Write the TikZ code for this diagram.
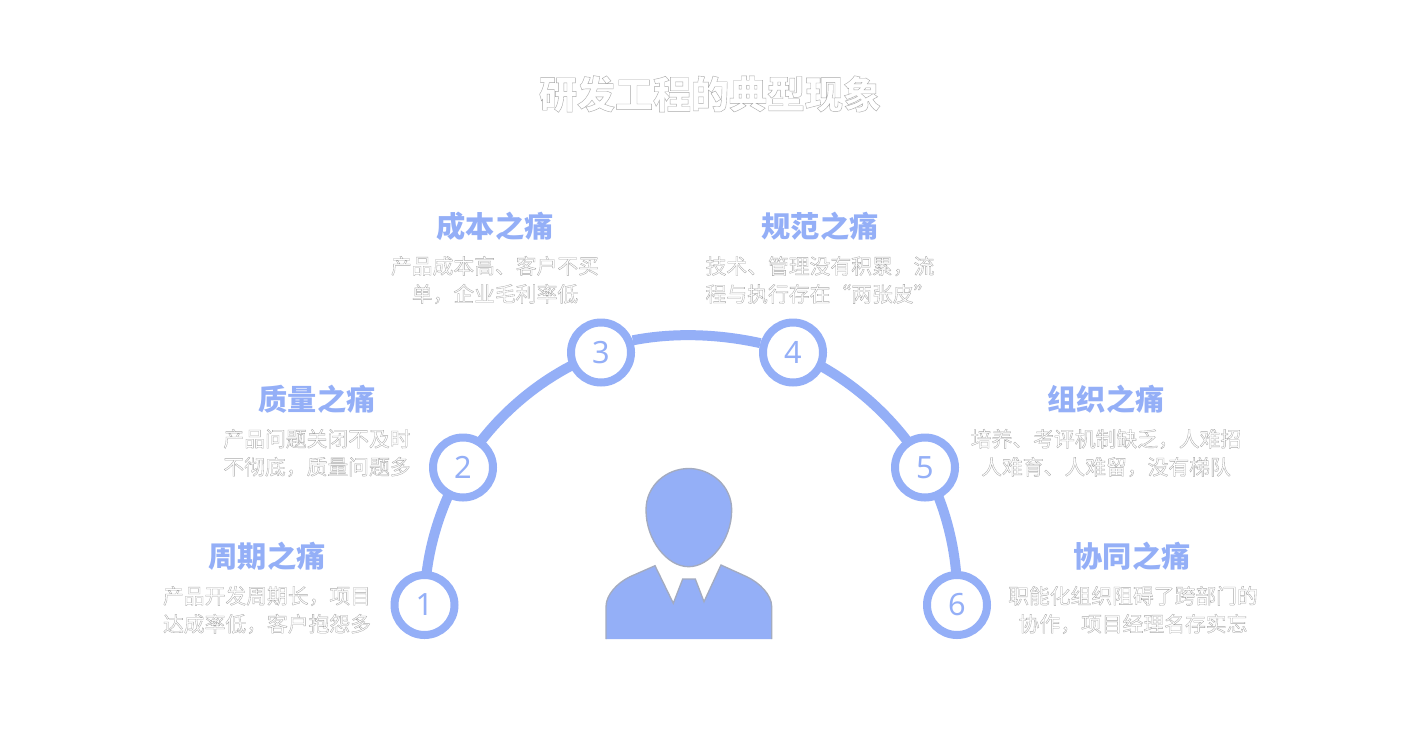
\documentclass[tikz,border=0pt]{standalone}
\usepackage{fontspec}
\setmainfont{Noto Sans}
\newfontfamily\cjkreg{Noto Sans CJK SC}
\definecolor{accent}{HTML}{94AFF7}
\definecolor{edge}{HTML}{A3ABC0}
% outlined text: white fill, grey stroke
\newcommand{\outl}[2]{\special{pdf:code q 2 Tr #1 w 0.66 0.66 0.66 RG 1 1 1 rg}#2\special{pdf:code Q}}
\tikzset{
  x=0.75pt,y=-0.75pt,
  ring/.style={circle,draw=accent,line width=6pt,fill=white,minimum size=45pt,inner sep=0pt,text=accent,font=\fontsize{23}{23}\selectfont},
  arcline/.style={draw=accent,line width=7.5pt,looseness=0.85},
  heading/.style={text=accent,font=\cjkreg\fontsize{21.9}{22}\selectfont\bfseries,anchor=center,inner sep=0pt},
  desc/.style={align=center,anchor=center,inner sep=0pt,font=\cjkreg\fontsize{15.6}{21}\selectfont},
  titlestyle/.style={anchor=center,inner sep=0pt,font=\cjkreg\fontsize{28.5}{30}\selectfont\bfseries},
}
\begin{document}
\begin{tikzpicture}
\useasboundingbox (0,0) rectangle (1420,750);
\fill[white] (0,0) rectangle (1420,750);
\node[titlestyle] (title) at (710,94) {\outl{0.3}{研发工程的典型现象}};
\coordinate (k1) at (424.5,605);
\coordinate (k2) at (463,467.5);
\coordinate (k3) at (601,352.5);
\coordinate (k4) at (793,352.5);
\coordinate (k5) at (925,467.5);
\coordinate (k6) at (957,605);
\draw[arcline] (k1) to[bend left=15.6] (k2);
\draw[arcline] (k2) to[bend left=19.7] (k3);
\draw[arcline] (k4) to[bend left=18.7] (k5);
\draw[arcline] (k5) to[bend left=15.2] (k6);
\node[ring] (c1) at (k1) {1};
\node[ring] (c2) at (k2) {2};
\node[ring] (c3) at (k3) {3};
\node[ring] (c4) at (k4) {4};
\node[ring] (c5) at (k5) {5};
\node[ring] (c6) at (k6) {6};
\draw[arcline] (c3.21) to[out=11,in=167.6] (c4.164);
\node[heading] (h1) at (267,556.5) {周期之痛};
\node[heading] (h2) at (317,399.5) {质量之痛};
\node[heading] (h3) at (495,226.5) {成本之痛};
\node[heading] (h4) at (820,226.5) {规范之痛};
\node[heading] (h5) at (1106,399.5) {组织之痛};
\node[heading] (h6) at (1132,556.5) {协同之痛};
\node[desc] (d1) at (267,610) {\outl{0.25}{产品开发周期长，项目}\\\outl{0.25}{达成率低，客户抱怨多}};
\node[desc] (d2) at (317,453) {\outl{0.25}{产品问题关闭不及时}\\\outl{0.25}{不彻底，质量问题多}};
\node[desc] (d3) at (495,280) {\outl{0.25}{产品成本高、客户不买}\\\outl{0.25}{单，企业毛利率低}};
\node[desc] (d4) at (820,280) {\outl{0.25}{技术、管理没有积累，流}\\\outl{0.25}{程与执行存在“两张皮”}};
\node[desc] (d5) at (1106,453) {\outl{0.25}{培养、考评机制缺乏，人难招}\\\outl{0.25}{人难育、人难留，没有梯队}};
\node[desc] (d6) at (1133,610) {\outl{0.25}{职能化组织阻碍了跨部门的}\\\outl{0.25}{协作，项目经理名存实忘}};
% person
\path[fill=accent,draw=edge,line width=1pt] (688.7,468.5)
  .. controls (710,468.5) and (731.7,485) .. (731.7,510)
  .. controls (731.7,540) and (710,566.7) .. (688.7,566.7)
  .. controls (667,566.7) and (646,540) .. (646,510)
  .. controls (646,485) and (667,468.5) .. (688.7,468.5) -- cycle;
\path[fill=accent] (606,639) -- (606,606.7)
  .. controls (606,595) and (617,583) .. (630,576.7)
  -- (655,565.7) -- (673.3,603.3) -- (682.7,579) -- (695.3,579) -- (704,601.7) -- (721,565)
  -- (746.7,576.7) .. controls (760,583) and (771.7,595) .. (771.7,606.7)
  -- (771.7,639) -- cycle;
\draw[edge,line width=1pt] (606,639) -- (606,606.7)
  .. controls (606,595) and (617,583) .. (630,576.7)
  -- (655,565.7) -- (673.3,603.3) -- (682.7,579) -- (695.3,579) -- (704,601.7) -- (721,565)
  -- (746.7,576.7) .. controls (760,583) and (771.7,595) .. (771.7,606.7)
  -- (771.7,639);
\end{tikzpicture}
\end{document}
